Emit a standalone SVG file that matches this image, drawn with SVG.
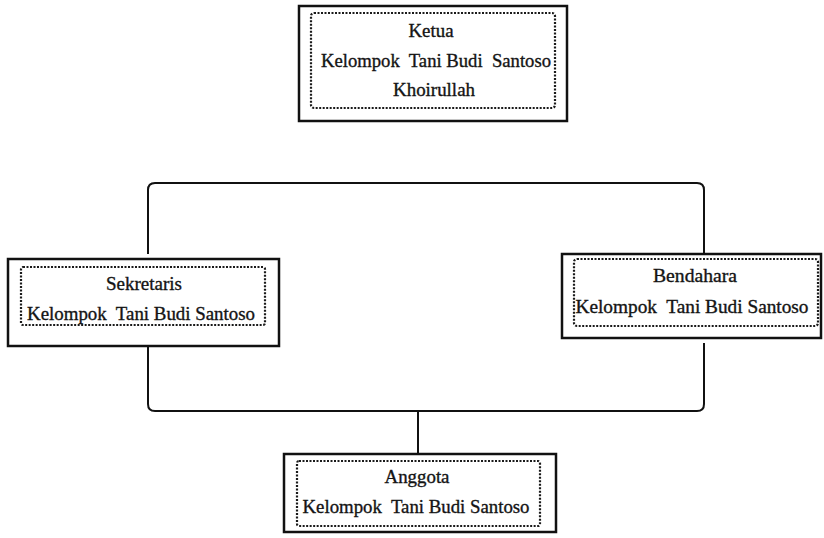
<svg xmlns="http://www.w3.org/2000/svg" width="824" height="538" viewBox="0 0 824 538">
<style>
.outer{fill:#fff;stroke:#111;stroke-width:2.5}
.inner{fill:none;stroke:#1a1a1a;stroke-width:2.2;stroke-dasharray:2 1.5;}
.t{font-family:'Liberation Serif','Times New Roman',serif;font-size:19px;fill:#141414;text-anchor:middle;stroke:#141414;stroke-width:0.35}
.c{fill:none;stroke:#111;stroke-width:2}
</style>
<rect width="824" height="538" fill="#fff"/>
<g id="connectors">
<path class="c" d="M148 254 V190 Q148 183 155 183 H697 Q704 183 704 190 V254"/>
<path class="c" d="M148 346 V404 Q148 411 155 411 H697 Q704 411 704 404 V343"/>
<path class="c" d="M418 411 V454"/>
</g>
<g id="ketua">
<rect class="outer" x="299" y="6" width="268" height="115"/>
<rect class="inner" x="311" y="13" width="244" height="95" rx="3"/>
<text class="t" x="431" y="37" textLength="45" lengthAdjust="spacingAndGlyphs">Ketua</text>
<text class="t" x="436" y="67" textLength="230" lengthAdjust="spacingAndGlyphs" xml:space="preserve">Kelompok  Tani Budi  Santoso</text>
<text class="t" x="434" y="96" textLength="82" lengthAdjust="spacingAndGlyphs">Khoirullah</text>
</g>
<g id="sekretaris">
<rect class="outer" x="8" y="259" width="271" height="87"/>
<rect class="inner" x="21" y="267" width="244" height="58" rx="2"/>
<text class="t" x="144" y="290" textLength="76" lengthAdjust="spacingAndGlyphs">Sekretaris</text>
<text class="t" x="141" y="320" textLength="228" lengthAdjust="spacingAndGlyphs" xml:space="preserve">Kelompok  Tani Budi Santoso</text>
</g>
<g id="bendahara">
<rect class="outer" x="562" y="254" width="259" height="84"/>
<rect class="inner" x="574" y="259" width="244" height="67" rx="3"/>
<text class="t" x="695" y="282" textLength="84" lengthAdjust="spacingAndGlyphs">Bendahara</text>
<text class="t" x="692" y="313" textLength="233" lengthAdjust="spacingAndGlyphs" xml:space="preserve">Kelompok  Tani Budi Santoso</text>
</g>
<g id="anggota">
<rect class="outer" x="284" y="454" width="272" height="78"/>
<rect class="inner" x="297" y="461" width="243" height="65" rx="2"/>
<text class="t" x="417" y="483" textLength="65" lengthAdjust="spacingAndGlyphs">Anggota</text>
<text class="t" x="416" y="513" textLength="227" lengthAdjust="spacingAndGlyphs" xml:space="preserve">Kelompok  Tani Budi Santoso</text>
</g>
</svg>
